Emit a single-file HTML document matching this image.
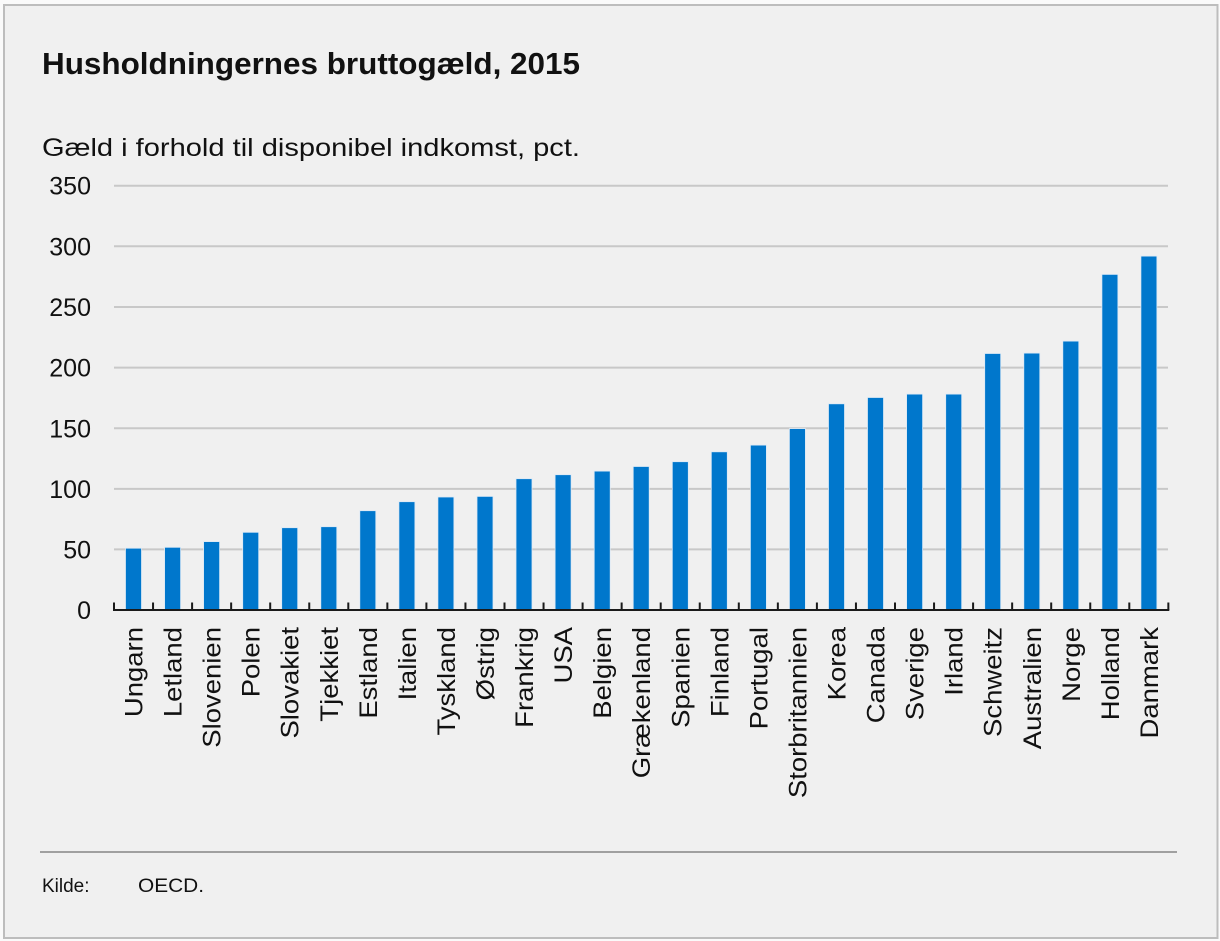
<!DOCTYPE html>
<html><head><meta charset="utf-8"><style>
html,body{margin:0;padding:0;background:#fafafa;}
svg{display:block;}
text{font-family:"Liberation Sans",sans-serif;fill:#111;}
</style></head><body>
<svg width="1220" height="941" viewBox="0 0 1220 941" xmlns="http://www.w3.org/2000/svg">
<rect x="0" y="0" width="1220" height="941" fill="#fafafa"/>
<rect x="4" y="5" width="1213.5" height="933" fill="#f0f0f0" stroke="#bdbdbd" stroke-width="2"/>
<text x="42" y="74" font-size="31" font-weight="bold" textLength="538" lengthAdjust="spacingAndGlyphs">Husholdningernes bruttogæld, 2015</text>
<text x="42" y="156" font-size="25" textLength="538" lengthAdjust="spacingAndGlyphs">Gæld i forhold til disponibel indkomst, pct.</text>
<g stroke="#c8c8c8" stroke-width="2">
<line x1="114" x2="1168" y1="185.7" y2="185.7"/>
<line x1="114" x2="1168" y1="246.3" y2="246.3"/>
<line x1="114" x2="1168" y1="307" y2="307"/>
<line x1="114" x2="1168" y1="367.6" y2="367.6"/>
<line x1="114" x2="1168" y1="428.3" y2="428.3"/>
<line x1="114" x2="1168" y1="488.9" y2="488.9"/>
<line x1="114" x2="1168" y1="549.4" y2="549.4"/>
</g>
<g font-size="25" text-anchor="end">
<text x="91" y="194.7">350</text>
<text x="91" y="255.3">300</text>
<text x="91" y="316">250</text>
<text x="91" y="376.6">200</text>
<text x="91" y="437.3">150</text>
<text x="91" y="497.9">100</text>
<text x="91" y="558.4">50</text>
<text x="91" y="619">0</text>
</g>
<g fill="#0077cc" stroke="#dbe9f6" stroke-width="0.8">
<rect x="125.5" y="548.2" width="16" height="61.8"/>
<rect x="164.6" y="547.3" width="16" height="62.7"/>
<rect x="203.6" y="541.6" width="16" height="68.4"/>
<rect x="242.7" y="532.3" width="16" height="77.7"/>
<rect x="281.7" y="527.7" width="16" height="82.3"/>
<rect x="320.8" y="526.7" width="16" height="83.3"/>
<rect x="359.8" y="510.7" width="16" height="99.3"/>
<rect x="398.9" y="501.7" width="16" height="108.3"/>
<rect x="437.9" y="497.0" width="16" height="113"/>
<rect x="477.0" y="496.4" width="16" height="113.6"/>
<rect x="516.0" y="478.7" width="16" height="131.3"/>
<rect x="555.1" y="474.7" width="16" height="135.3"/>
<rect x="594.2" y="471.1" width="16" height="138.9"/>
<rect x="633.2" y="466.5" width="16" height="143.5"/>
<rect x="672.3" y="461.7" width="16" height="148.3"/>
<rect x="711.3" y="451.8" width="16" height="158.2"/>
<rect x="750.4" y="445.1" width="16" height="164.9"/>
<rect x="789.4" y="428.6" width="16" height="181.4"/>
<rect x="828.5" y="403.8" width="16" height="206.2"/>
<rect x="867.5" y="397.5" width="16" height="212.5"/>
<rect x="906.6" y="394.1" width="16" height="215.9"/>
<rect x="945.7" y="394.1" width="16" height="215.9"/>
<rect x="984.7" y="353.5" width="16" height="256.5"/>
<rect x="1023.8" y="353.1" width="16" height="256.9"/>
<rect x="1062.8" y="341.1" width="16" height="268.9"/>
<rect x="1101.9" y="274.4" width="16" height="335.6"/>
<rect x="1140.9" y="256.1" width="16" height="353.9"/>
</g>
<line x1="113" x2="1169.3" y1="610" y2="610" stroke="#1a1a1a" stroke-width="2"/>
<path stroke="#1a1a1a" stroke-width="2" fill="none" d="M114 602.5V610M153.05 602.5V610M192.1 602.5V610M231.15 602.5V610M270.2 602.5V610M309.25 602.5V610M348.3 602.5V610M387.35 602.5V610M426.4 602.5V610M465.45 602.5V610M504.5 602.5V610M543.55 602.5V610M582.6 602.5V610M621.65 602.5V610M660.7 602.5V610M699.75 602.5V610M738.8 602.5V610M777.85 602.5V610M816.9 602.5V610M855.95 602.5V610M895 602.5V610M934.05 602.5V610M973.1 602.5V610M1012.15 602.5V610M1051.2 602.5V610M1090.25 602.5V610M1129.3 602.5V610M1168.35 602.5V610"/>
<g font-size="25" text-anchor="end">
<text transform="translate(142.5,627) rotate(-90) scale(1.1,1)">Ungarn</text>
<text transform="translate(181.6,627) rotate(-90) scale(1.1,1)">Letland</text>
<text transform="translate(220.6,627) rotate(-90) scale(1.1,1)">Slovenien</text>
<text transform="translate(259.7,627) rotate(-90) scale(1.1,1)">Polen</text>
<text transform="translate(298.7,627) rotate(-90) scale(1.1,1)">Slovakiet</text>
<text transform="translate(337.8,627) rotate(-90) scale(1.1,1)">Tjekkiet</text>
<text transform="translate(376.8,627) rotate(-90) scale(1.1,1)">Estland</text>
<text transform="translate(415.9,627) rotate(-90) scale(1.1,1)">Italien</text>
<text transform="translate(454.9,627) rotate(-90) scale(1.1,1)">Tyskland</text>
<text transform="translate(494.0,627) rotate(-90) scale(1.1,1)">Østrig</text>
<text transform="translate(533.0,627) rotate(-90) scale(1.1,1)">Frankrig</text>
<text transform="translate(572.1,627) rotate(-90) scale(1.1,1)">USA</text>
<text transform="translate(611.2,627) rotate(-90) scale(1.1,1)">Belgien</text>
<text transform="translate(650.2,627) rotate(-90) scale(1.1,1)">Grækenland</text>
<text transform="translate(689.3,627) rotate(-90) scale(1.1,1)">Spanien</text>
<text transform="translate(728.3,627) rotate(-90) scale(1.1,1)">Finland</text>
<text transform="translate(767.4,627) rotate(-90) scale(1.1,1)">Portugal</text>
<text transform="translate(806.4,627) rotate(-90) scale(1.1,1)">Storbritannien</text>
<text transform="translate(845.5,627) rotate(-90) scale(1.1,1)">Korea</text>
<text transform="translate(884.5,627) rotate(-90) scale(1.1,1)">Canada</text>
<text transform="translate(923.6,627) rotate(-90) scale(1.1,1)">Sverige</text>
<text transform="translate(962.7,627) rotate(-90) scale(1.1,1)">Irland</text>
<text transform="translate(1001.7,627) rotate(-90) scale(1.1,1)">Schweitz</text>
<text transform="translate(1040.8,627) rotate(-90) scale(1.1,1)">Australien</text>
<text transform="translate(1079.8,627) rotate(-90) scale(1.1,1)">Norge</text>
<text transform="translate(1118.9,627) rotate(-90) scale(1.1,1)">Holland</text>
<text transform="translate(1157.9,627) rotate(-90) scale(1.1,1)">Danmark</text>
</g>
<line x1="40" x2="1177" y1="852" y2="852" stroke="#a0a0a0" stroke-width="2"/>
<text x="42" y="892" font-size="19">Kilde:</text>
<text x="138" y="892" font-size="19" textLength="66" lengthAdjust="spacingAndGlyphs">OECD.</text>
</svg>
</body></html>
